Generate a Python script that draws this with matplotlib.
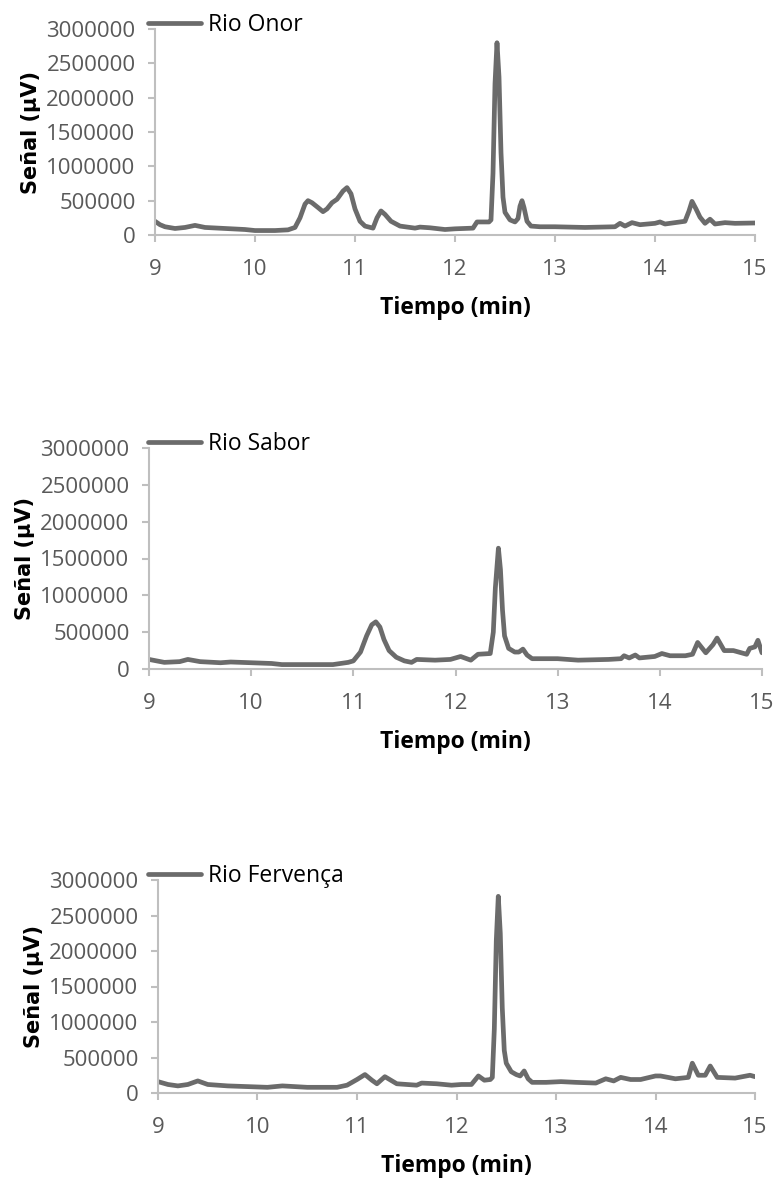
import matplotlib
matplotlib.use("Agg")
import matplotlib.pyplot as plt

plt.rcParams['font.family'] = ['Open Sans', 'DejaVu Sans']

onor_t = [9.0, 9.05, 9.1, 9.2, 9.3, 9.4, 9.5, 9.7, 9.9, 10.0, 10.2, 10.33, 10.4,
          10.45, 10.5, 10.53, 10.57, 10.63, 10.68, 10.72, 10.77, 10.82, 10.88, 10.92,
          10.96, 11.0, 11.05, 11.1, 11.18, 11.22, 11.26, 11.3, 11.36, 11.45, 11.6,
          11.65, 11.75, 11.9, 12.0, 12.18, 12.22, 12.34, 12.36, 12.38, 12.4, 12.42,
          12.44, 12.46, 12.48, 12.5, 12.55, 12.6, 12.63, 12.65, 12.67, 12.69, 12.72,
          12.76, 12.85, 13.0, 13.3, 13.6, 13.65, 13.7, 13.77, 13.85, 14.0, 14.05,
          14.1, 14.3, 14.34, 14.37, 14.41, 14.45, 14.5, 14.55, 14.6, 14.7, 14.8, 15.0]
onor_s = [200000, 150000, 120000, 95000, 110000, 140000, 110000, 95000, 80000,
          65000, 65000, 75000, 110000, 250000, 450000, 500000, 470000, 400000,
          340000, 380000, 470000, 520000, 640000, 690000, 600000, 380000, 200000,
          130000, 100000, 250000, 350000, 300000, 200000, 130000, 100000, 115000,
          105000, 80000, 90000, 100000, 190000, 190000, 220000, 900000, 2200000,
          2800000, 2300000, 1200000, 550000, 330000, 220000, 190000, 240000, 420000,
          500000, 400000, 200000, 130000, 120000, 120000, 110000, 120000, 170000,
          130000, 180000, 150000, 170000, 190000, 160000, 200000, 350000, 490000,
          380000, 260000, 170000, 230000, 160000, 180000, 170000, 175000]

sabor_t = [9.0, 9.15, 9.3, 9.38, 9.5, 9.7, 9.8, 10.0, 10.2, 10.3, 10.5, 10.8, 10.95,
           11.0, 11.07, 11.13, 11.18, 11.22, 11.26, 11.3, 11.35, 11.42, 11.5, 11.57,
           11.62, 11.8, 11.95, 12.05, 12.15, 12.22, 12.34, 12.37, 12.39, 12.42, 12.44,
           12.46, 12.48, 12.52, 12.58, 12.62, 12.66, 12.7, 12.75, 12.9, 13.0, 13.2,
           13.5, 13.62, 13.65, 13.7, 13.76, 13.8, 13.95, 14.02, 14.1, 14.25, 14.32,
           14.37, 14.45, 14.52, 14.56, 14.63, 14.72, 14.85, 14.88, 14.93, 14.96, 15.0]
sabor_s = [130000, 90000, 100000, 130000, 100000, 85000, 95000, 85000, 75000, 60000,
           60000, 60000, 90000, 110000, 230000, 450000, 600000, 640000, 570000,
           400000, 250000, 160000, 110000, 90000, 130000, 120000, 130000, 170000,
           120000, 200000, 210000, 500000, 1100000, 1640000, 1350000, 800000, 450000,
           280000, 230000, 230000, 270000, 190000, 140000, 140000, 140000, 120000,
           130000, 140000, 180000, 150000, 190000, 150000, 170000, 210000, 180000,
           180000, 200000, 360000, 220000, 330000, 420000, 250000, 250000, 200000,
           280000, 300000, 390000, 220000]

ferv_t = [9.0, 9.1, 9.2, 9.3, 9.4, 9.5, 9.7, 9.9, 10.1, 10.25, 10.5, 10.8, 10.9,
          11.0, 11.08, 11.15, 11.2, 11.28, 11.4, 11.6, 11.65, 11.8, 11.95, 12.05,
          12.15, 12.22, 12.28, 12.34, 12.36, 12.38, 12.4, 12.42, 12.44, 12.46,
          12.48, 12.5, 12.55, 12.6, 12.64, 12.68, 12.72, 12.76, 12.9, 13.05, 13.2,
          13.4, 13.5, 13.58, 13.65, 13.75, 13.85, 14.0, 14.05, 14.2, 14.33, 14.37,
          14.43, 14.5, 14.55, 14.62, 14.8, 14.95, 15.0]
ferv_s = [160000, 120000, 100000, 120000, 170000, 120000, 100000, 90000, 80000,
          100000, 80000, 80000, 110000, 190000, 260000, 180000, 130000, 230000,
          130000, 110000, 140000, 130000, 110000, 120000, 120000, 240000, 180000,
          190000, 220000, 900000, 2150000, 2770000, 2250000, 1200000, 600000,
          420000, 300000, 260000, 240000, 310000, 200000, 150000, 150000, 160000,
          150000, 140000, 200000, 170000, 220000, 190000, 190000, 240000, 240000,
          200000, 220000, 420000, 250000, 250000, 380000, 220000, 210000, 250000,
          230000]

nombres = ['Rio Onor', 'Rio Sabor', 'Rio Fervença']
series = [(onor_t, onor_s), (sabor_t, sabor_s), (ferv_t, ferv_s)]

yticks = [0, 500000, 1000000, 1500000, 2000000, 2500000, 3000000]
xticks = [9, 10, 11, 12, 13, 14, 15]

W, H = 776, 1179
# posiciones de los ejes en pixeles (izq, der, arriba, abajo)
cajas = [(155, 755, 29, 235), (149, 762, 448, 669), (158, 755, 880, 1093)]

fig = plt.figure(figsize=(W / 100, H / 100), dpi=100)

gris = '#6b6b6b'
for (t, s), nombre, (l, r, top, bot) in zip(series, nombres, cajas):
    ax = fig.add_axes([l / W, 1 - bot / H, (r - l) / W, (bot - top) / H])
    ax.plot(t, s, color=gris, lw=3.4, label=nombre,
            solid_joinstyle='round', solid_capstyle='round')
    ax.set_xlim(9, 15)
    ax.set_ylim(0, 3000000)
    ax.set_xticks(xticks)
    ax.set_yticks(yticks)
    ax.set_yticklabels([str(v) for v in yticks])
    for sp in ['top', 'right']:
        ax.spines[sp].set_visible(False)
    for sp in ['left', 'bottom']:
        ax.spines[sp].set_color('#bfbfbf')
        ax.spines[sp].set_linewidth(1.5)
    ax.tick_params(axis='both', colors='#bfbfbf', width=1.5, length=5,
                   labelcolor='#595959', labelsize=16, direction='out')
    ax.tick_params(axis='y', pad=9)
    ax.tick_params(axis='x', pad=12)
    ax.set_xlabel('Tiempo (min)', fontsize=16.5, fontweight='bold', labelpad=12)
    ax.set_ylabel('Señal (µV)', fontsize=15, fontweight='bold',
                  family=['DejaVu Sans'], labelpad=4)
    leg = ax.legend(loc='center left', bbox_to_anchor=(148 / W, 1 - (top - 4) / H),
                    bbox_transform=fig.transFigure, frameon=False, fontsize=16.5,
                    handlelength=2.3, handletextpad=0.3, borderpad=0,
                    borderaxespad=0)
    for h in leg.get_lines():
        h.set_linewidth(3.4)

fig.savefig('out.png', dpi=100)
